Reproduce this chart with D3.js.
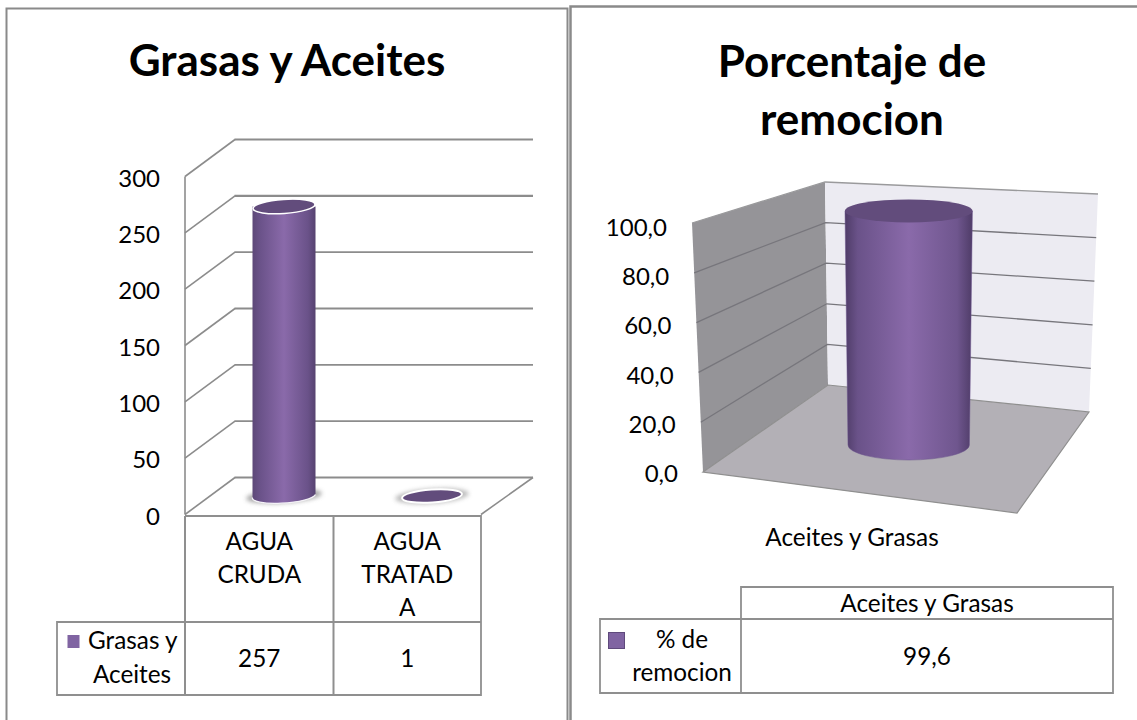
<!DOCTYPE html>
<html><head><meta charset="utf-8">
<script src="https://d3js.org/d3.v7.min.js"></script>
<style>html,body{margin:0;padding:0;background:#fff}svg{display:block}text{font-family:Lato,"Open Sans",sans-serif;fill:#000}</style>
</head><body><svg id="c" width="1137" height="720"></svg>
<script>
const titleLeft = "Grasas y Aceites";
const categoriesLeft = [["AGUA","CRUDA"],["AGUA","TRATAD","A"]];
const valuesLeft = [257, 1];
const ticksLeft = [0,50,100,150,200,250,300];
const seriesLeft = ["Grasas y","Aceites"];
const titleRight = ["Porcentaje de","remocion"];
const categoryRight = "Aceites y Grasas";
const valuesRight = [99.6];
const ticksRight = [0,20,40,60,80,100];
const seriesRight = ["% de","remocion"];

const svg = d3.select("#c");
const grid="#8c8c8c", tbl="#8f8f8f";
const fs=24.3, tickFs=24, titleFs=44;
const defs = svg.append("defs");
function grad(id,stops){const g=defs.append("linearGradient").attr("id",id);stops.forEach(s=>g.append("stop").attr("offset",s[0]).attr("stop-color",s[1]));}
grad("cylL",[[0,"#5d4878"],[.12,"#6a5289"],[.5,"#8a6aaa"],[.88,"#6a5289"],[1,"#564270"]]);
grad("cylR",[[0,"#4f3c68"],[.1,"#6a5289"],[.5,"#8a6aaa"],[.88,"#6f568e"],[1,"#4f3c68"]]);
const blur=defs.append("filter").attr("id","bl").attr("x","-20%").attr("y","-50%").attr("width","140%").attr("height","200%");
blur.append("feGaussianBlur").attr("stdDeviation",2);

const line=(g,x1,y1,x2,y2,c,w)=>g.append("line").attr("x1",x1).attr("y1",y1).attr("x2",x2).attr("y2",y2).attr("stroke",c).attr("stroke-width",w);
svg.append("path").attr("d","M6.5,720V8.5H567.5V720").attr("fill","none").attr("stroke","#8a8a8a").attr("stroke-width",2);
svg.append("path").attr("d","M570.5,720V6.5H1137").attr("fill","none").attr("stroke","#8a8a8a").attr("stroke-width",2.5);

function textLines(g,lines,x,y,lh,size,anchor){
  return lines.map((t,i)=>g.append("text").attr("x",x).attr("y",y+i*lh).attr("text-anchor",anchor||"middle").attr("font-size",size).text(t));
}

// ---------- LEFT
const L=svg.append("g");
textLines(L,[titleLeft],287,76,0,titleFs)[0].attr("font-weight",700);
const yL=d3.scaleLinear().domain([0,300]).range([514.5,176.5]);
const depthX=50, depthY=-37;
const xL0=185, xL1=481;
const xBand=d3.scaleBand().domain(d3.range(categoriesLeft.length)).range([xL0,xL1]);
ticksLeft.forEach(t=>{
  const y=yL(t);
  L.append("line").attr("x1",xL0).attr("y1",y).attr("x2",xL0+depthX).attr("y2",y+depthY).attr("stroke",grid).attr("stroke-width",1.6);
  L.append("line").attr("x1",xL0+depthX-.5).attr("y1",y+depthY).attr("x2",xL1+depthX+2).attr("y2",y+depthY).attr("stroke",grid).attr("stroke-width",t===250?2.4:1.8);
  if(t===0) L.append("line").attr("x1",xL1+depthX+2).attr("y1",y+depthY).attr("x2",xL1).attr("y2",y).attr("stroke",grid).attr("stroke-width",1.6);
  L.append("text").attr("x",160).attr("y",y+10).attr("text-anchor","end").attr("font-size",tickFs).text(d3.format("d")(t));
});
line(L,xL0,yL(300),xL0,yL(0),grid,1.6);

function ell(g,cx,cy,rx,ry,rot,attrs){const e=g.append("ellipse").attr("cx",cx).attr("cy",cy).attr("rx",rx).attr("ry",ry).attr("transform",`rotate(${rot} ${cx} ${cy})`);Object.entries(attrs).forEach(([k,v])=>e.attr(k,v));return e;}
valuesLeft.forEach((v,i)=>{
  const px=xBand(i)+xBand.bandwidth()/2+depthX/2;
  const base=yL(0)+depthY/2;
  const top=base-(yL(0)-yL(v));
  const rx=31.5, ry=7, rot=-4;
  if(v>5){
    ell(L,px,base,38,7,rot,{fill:"#8e8e8e",filter:"url(#bl)",opacity:.75});
    L.append("path").attr("d",`M${px-rx},${top}V${base+1.5}A${rx},${ry} -4 0 0 ${px+rx},${base-1.5}V${top}Z`).attr("fill","url(#cylL)");
    L.append("path").attr("d",`M${px-rx},${base+1.5}A${rx},${ry} -4 0 0 ${px+rx},${base-1.5}`).attr("fill","none").attr("stroke","#f4f2f7").attr("stroke-width",1.3);
    ell(L,px,top,rx-.5,ry,rot,{fill:"#624c7c",stroke:"#fff","stroke-width":1.5});
  } else {
    ell(L,px,base,37,7.5,rot,{fill:"#a0a0a0",filter:"url(#bl)",opacity:.7});
    ell(L,px,base,30,6.5,rot,{fill:"#624c7c",stroke:"#fff","stroke-width":2});
  }
});

const tY0=516,tY1=622,tY2=695,tX0=57;
const tc=[xL0,xL0+148.5,xL1];
L.append("path").attr("d",`M${tc[0]},${tY0}H${tc[2]}V${tY2}H${tX0}V${tY1}H${tc[2]}`).attr("fill","none").attr("stroke",tbl).attr("stroke-width",1.8);
line(L,tc[0],tY0,tc[0],tY2,tbl,2);
line(L,tc[1],tY0,tc[1],tY2,tbl,2);
categoriesLeft.forEach((c,i)=>textLines(L,c,(tc[i]+tc[i+1])/2,549.5,33,fs));
valuesLeft.forEach((v,i)=>L.append("text").attr("x",(tc[i]+tc[i+1])/2).attr("y",667).attr("text-anchor","middle").attr("font-size",fs).text(v));
L.append("rect").attr("x",67.5).attr("y",635).attr("width",12).attr("height",13).attr("fill","#8064a2");
L.append("text").attr("x",88).attr("y",649).attr("font-size",fs).text(seriesLeft[0]);
L.append("text").attr("x",132).attr("y",682.5).attr("text-anchor","middle").attr("font-size",fs).text(seriesLeft[1]);

// ---------- RIGHT
const R=svg.append("g");
textLines(R,titleRight,852,76.5,58,titleFs).forEach(t=>t.attr("font-weight",700));
const edge=(a,b)=>d3.scaleLinear().domain([0,100]).range([a,b]);
const frontX=edge(703,692), frontY=edge(472,223);
const backX=edge(828,825), backY=edge(385,182);
const rightX=edge(1089,1098), rightY=edge(412,194);
const P=(p)=>p.join(",");
R.append("polygon").attr("points",[[frontX(0),frontY(0)],[frontX(100),frontY(100)],[backX(100),backY(100)],[backX(0),backY(0)]].map(P).join(" ")).attr("fill","#959498");
R.append("polygon").attr("points",[[backX(0),backY(0)],[backX(100),backY(100)],[rightX(100),rightY(100)],[rightX(0),rightY(0)]].map(P).join(" ")).attr("fill","#ecebf2");
R.append("polygon").attr("points",[[frontX(0),frontY(0)],[backX(0),backY(0)],[rightX(0),rightY(0)],[1017,513]].map(P).join(" ")).attr("fill","#b3b0b6").attr("stroke","#8f8f8f").attr("stroke-width",1.2);
ticksRight.forEach(t=>{
  if(t>0) R.append("path").attr("d",`M${frontX(t)},${frontY(t)}L${backX(t)},${backY(t)}L${rightX(t)},${rightY(t)}`).attr("fill","none").attr("stroke",t===100?"#9a9a9c":"#77767c").attr("stroke-width",1.3);
  R.append("text").attr("x",frontX(t)-25).attr("y",frontY(t)+10+t*0.03).attr("text-anchor","end").attr("font-size",tickFs).text(d3.format(".1f")(t).replace(".",","));
});
const xR=d3.scaleBand().domain([categoryRight]).range([760,1057.4]);
const cx=xR(categoryRight)+xR.bandwidth()/2;
const cyl=d3.scaleLinear().domain([0,100]).range([445,210]);
const cT=cyl(valuesRight[0]), cB=cyl(0);
R.append("path").attr("d",`M${cx-63.7},${cT}L${cx-60.7},${cB}A60.7,15 0 0 0 ${cx+60.7},${cB}L${cx+63.7},${cT}Z`).attr("fill","url(#cylR)").attr("stroke","#6b528c").attr("stroke-width",.5);
ell(R,cx,cT,63.8,11.5,0,{fill:"#624c7c"});

R.append("text").attr("x",852).attr("y",545.5).attr("text-anchor","middle").attr("font-size",fs).text(categoryRight);

const rX0=600,rX1=741,rX2=1113,rY0=587,rY1=619,rY2=693;
R.append("path").attr("d",`M${rX1},${rY2}V${rY0}H${rX2}V${rY2}H${rX0}V${rY1}H${rX2}`).attr("fill","none").attr("stroke",tbl).attr("stroke-width",1.8);
R.append("text").attr("x",(rX1+rX2)/2).attr("y",611.5).attr("text-anchor","middle").attr("font-size",fs).text(categoryRight);
R.append("text").attr("x",(rX1+rX2)/2).attr("y",665).attr("text-anchor","middle").attr("font-size",fs).text(String(valuesRight[0]).replace(".",","));
R.append("rect").attr("x",608.5).attr("y",632.5).attr("width",16).attr("height",16).attr("fill","#8064a2").attr("stroke","#5f4a7c").attr("stroke-width",1);
textLines(R,seriesRight,682,648,33,fs);
</script></body></html>
